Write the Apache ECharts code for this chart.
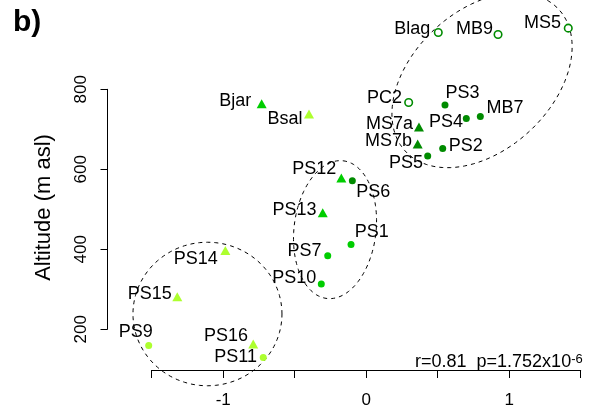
<!DOCTYPE html>
<html>
<head>
<meta charset="utf-8">
<script src="https://cdn.jsdelivr.net/npm/echarts@6/dist/echarts.min.js"></script>
<style>
html,body{margin:0;padding:0;background:#fff;}
#chart{width:589px;height:409px;}
</style>
</head>
<body>
<div id="chart"></div>
<script>
// ---- data ----
const siteNames = ['Bjar','Bsal','PS12','PS6','PS13','PS1','PS7','PS10','PS14','PS15','PS9','PS16','PS11',
                   'Blag','MB9','MS5','PC2','PS3','PS4','MB7','MS7a','MS7b','PS2','PS5'];
const xScore   = [-0.731,-0.400,-0.174,-0.097,-0.304,-0.106,-0.269,-0.314,-0.985,-1.321,-1.521,-0.790,-0.720,
                   0.504,0.922,1.413,0.297,0.551,0.700,0.798,0.369,0.360,0.535,0.430];
const altitude = [764,738,578,571,491,412,384,313,397,281,159,163,129,
                  942,937,953,767,761,727,732,706,663,652,633];
// group: shape + colour class of each site
const siteGroup = ['triB','triL','triB','cirD','triB','cirB','cirB','cirB','triL','triL','cirL','triL','cirL',
                   'openD','openD','openD','openD','cirD','cirD','cirD','triD','triD','cirD','cirD'];
const xTicks = [-1.5,-1,-0.5,0,0.5,1,1.5];
const xTickLabels = ['', '-1', '', '0', '', '1', ''];
const yTicks = [200,400,600,800];
// ellipses: centre (x, alt), semi-axis vectors in data units
const ellCx = [0.810,-0.218,-1.110];
const ellCy = [822.6,449,238];
const ellAx = [[0.524,181.9],[0.056,172.2],[0.521,0]];
const ellBx = [[-0.350,121.3],[0.285,-11.2],[0,179.5]];
const statText = 'r=0.81  p=1.752x10';
const statSup = '-6';

// ---- layout of labels (text edge offset from point, px) ----
const labelLayout = {
  Bjar:[-10.5,-2.3,'right'], Bsal:[-6.5,4.6,'right'], PS12:[-5,-8.7,'right'], PS6:[3.8,11.6,'left'],
  PS13:[-6.3,-2.8,'right'], PS1:[3.8,-12.1,'left'], PS7:[-6.3,-4.4,'right'], PS10:[-5,-5.5,'right'],
  PS14:[-7.6,8.4,'right'], PS15:[-5.6,-2.8,'right'], PS9:[-12.9,-14,'center'], PS16:[-5.2,-7.5,'right'],
  PS11:[-6.2,-0.5,'right'], Blag:[-8,-3.7,'right'], MB9:[-5,-5.7,'right'], MS5:[-7.3,-4.8,'right'],
  PC2:[-6.7,-4.7,'right'], PS3:[0.5,-11.6,'left'], PS4:[-3.3,4,'right'], MB7:[6.2,-8,'left'],
  MS7a:[-6,-3,'right'], MS7b:[-5.7,-2.9,'right'], PS2:[6.1,-2.5,'left'], PS5:[-4.7,7.2,'right']
};

const DARK = '#008B00', BRIGHT = '#00CD00', LIGHT = '#ADFF2F';
const groupStyle = {
  triB:{symbol:'triangle', size:[10,9], color:BRIGHT},
  triL:{symbol:'triangle', size:[10,9], color:LIGHT},
  triD:{symbol:'triangle', size:[10,9], color:DARK},
  cirB:{symbol:'circle', size:7, color:BRIGHT},
  cirL:{symbol:'circle', size:7, color:LIGHT},
  cirD:{symbol:'circle', size:7, color:DARK},
  openD:{symbol:'circle', size:7.5, color:'#fff', border:DARK}
};

const FONT = '"Liberation Sans", Arial, sans-serif';
const series = [];
Object.keys(groupStyle).forEach(function(g){
  const st = groupStyle[g];
  const data = [];
  siteNames.forEach(function(n,i){
    if (siteGroup[i] !== g) return;
    const L = labelLayout[n];
    data.push({
      name:n, value:[xScore[i], altitude[i]],
      label:{show:true, formatter:n, position:'inside', align:L[2], verticalAlign:'middle', offset:[L[0],L[1]]}
    });
  });
  series.push({
    type:'scatter', clip:false, symbol:st.symbol, symbolSize:st.size,
    itemStyle: st.border ? {color:'#fff', borderColor:st.border, borderWidth:1.6, opacity:1} : {color:st.color, opacity:1},
    label:{color:'#000', fontFamily:FONT, fontSize:18},
    emphasis:{disabled:true},
    data:data, z:5
  });
});

series.push({
  type:'custom', clip:false, silent:true, z:3,
  data: ellCx.map(function(c,i){ return [c, ellCy[i]]; }),
  renderItem:function(params, api){
    const i = params.dataIndex;
    const cx = api.value(0), cy = api.value(1);
    const A = ellAx[i], B = ellBx[i];
    const pts = [];
    for (let k=0;k<=120;k++){
      const t = k/120*Math.PI*2;
      pts.push(api.coord([cx + Math.cos(t)*A[0] + Math.sin(t)*B[0], cy + Math.cos(t)*A[1] + Math.sin(t)*B[1]]));
    }
    return {type:'polyline', shape:{points:pts}, style:{stroke:'#000', lineWidth:1, lineDash:[4,4], fill:null}};
  }
});

const chart = echarts.init(document.getElementById('chart'), null, {renderer:'canvas'});
chart.setOption({
  animation:false,
  backgroundColor:'#fff',
  grid:{left:151.7, top:89.3, width:429, height:247.4, containLabel:false},
  xAxis:{
    type:'value', min:-1.5, max:1.5, interval:0.5, offset:40.8,
    axisLine:{show:true, onZero:false, lineStyle:{color:'#000', width:1}},
    axisTick:{show:true, length:8, lineStyle:{color:'#000', width:1}},
    axisLabel:{color:'#000', fontFamily:FONT, fontSize:17, margin:22,
      formatter:function(v){ const k = xTicks.findIndex(function(t){return Math.abs(t-v)<1e-9;}); return k>=0 ? xTickLabels[k] : ''; }},
    splitLine:{show:false}
  },
  yAxis:{
    type:'value', min:200, max:800, interval:200, offset:44.2,
    axisLine:{show:true, onZero:false, lineStyle:{color:'#000', width:1}},
    axisTick:{show:true, length:7, lineStyle:{color:'#000', width:1}},
    axisLabel:{color:'#000', fontFamily:FONT, fontSize:17, rotate:90, margin:18,
      formatter:function(v){ return yTicks.indexOf(v)>=0 ? String(v) : ''; }},
    splitLine:{show:false}
  },
  graphic:[
    {type:'text', left:13, top:8, style:{text:'b)', fontWeight:'bold', fontSize:30, fontFamily:FONT, fill:'#000'}},
    {type:'text', x:43.5, y:207.5, rotation:Math.PI/2,
      style:{text:'Altitude (m asl)', fontSize:22, fontFamily:FONT, fill:'#000', textAlign:'center', textVerticalAlign:'middle'}},
    {type:'text', x:582.7, y:362.5,
      style:{text:'{m|'+statText+'}{s|'+statSup+'}', align:'right', verticalAlign:'middle', fill:'#000',
        rich:{m:{fontSize:18, fontFamily:FONT, lineHeight:20, verticalAlign:'middle', fill:'#000'},
              s:{fontSize:13, fontFamily:FONT, lineHeight:13, verticalAlign:'top', fill:'#000'}}}}
  ],
  series:series
});
</script>
</body>
</html>
